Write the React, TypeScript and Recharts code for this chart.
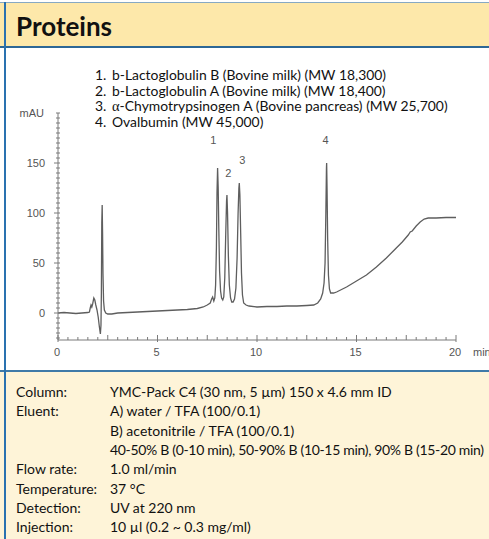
import React from 'react';
import { LineChart, Line, XAxis, YAxis, ReferenceDot } from 'recharts';

// retention time (min) and detector signal (mAU)
const traceTime = [
  0, 0.3, 0.6, 0.9, 1.2, 1.5, 1.58, 1.62, 1.66, 1.7, 1.74, 1.8, 1.85, 1.9, 1.96,
  2.02, 2.08, 2.13, 2.16, 2.18, 2.2, 2.22, 2.24, 2.26, 2.29, 2.33, 2.4, 2.5, 2.7,
  3, 3.5, 4, 4.5, 5, 5.5, 6, 6.5, 7, 7.3, 7.5, 7.65, 7.72, 7.77, 7.83, 7.88,
  7.92, 7.96, 7.99, 8.02, 8.05, 8.08, 8.12, 8.17, 8.22, 8.28,
  8.33, 8.38, 8.43, 8.47, 8.49, 8.52, 8.56, 8.61, 8.67, 8.73, 8.8,
  8.87, 8.94, 9.0, 9.05, 9.09, 9.11, 9.14, 9.18, 9.22, 9.27, 9.33, 9.45, 9.6,
  10, 10.5, 11, 11.5, 12, 12.5, 12.85, 13.05, 13.2, 13.3, 13.37, 13.42, 13.46,
  13.49, 13.5, 13.52, 13.55, 13.59, 13.64, 13.7, 13.85,
  14, 14.5, 15, 15.5, 16, 16.5, 17, 17.3, 17.6, 17.7, 17.8, 18, 18.2, 18.4,
  18.6, 19, 19.5, 20,
];
const traceMau = [
  0, 0.5, 0, -0.5, 0, 0.5, 1, 5, 8, 6, 9, 15, 13, 8, 3,
  -4, -14, -21, -12, 20, 90, 108, 80, 40, 12, 3, 0, -1, -1,
  0, 0.5, 1, 1.5, 2, 2.5, 3, 3.5, 4.5, 6, 8, 10, 14, 16, 12, 15,
  28, 65, 120, 145, 125, 85, 42, 22, 15, 13,
  16, 35, 80, 112, 118, 100, 58, 28, 15, 11, 11,
  14, 25, 55, 100, 125, 130, 118, 80, 40, 18, 10, 8, 7,
  6, 6.5, 6.5, 7, 7, 7.5, 8, 10, 14, 20, 30, 50, 100,
  145, 150, 125, 75, 38, 24, 20, 20,
  21, 26, 32, 38, 46, 55, 65, 71, 78, 81, 82, 87, 91, 94,
  95, 95, 95.5, 95.5,
];

const xTicks = [
  0, 0.5, 1, 1.5, 2, 2.5, 3, 3.5, 4, 4.5, 5, 5.5, 6, 6.5, 7, 7.5, 8, 8.5, 9, 9.5,
  10, 10.5, 11, 11.5, 12, 12.5, 13, 13.5, 14, 14.5, 15, 15.5, 16, 16.5, 17, 17.5,
  18, 18.5, 19, 19.5, 20,
];
const xMajorTicks = [0, 5, 10, 15, 20];
const xMidTicks = [2.5, 7.5, 12.5, 17.5];

const yTicks = [
  -25, -20, -15, -10, -5, 0, 5, 10, 15, 20, 25, 30, 35, 40, 45, 50, 55, 60, 65, 70,
  75, 80, 85, 90, 95, 100, 105, 110, 115, 120, 125, 130, 135, 140, 145, 150, 155,
  160, 165, 170, 175, 180, 185, 190, 195, 200,
];
const yMajorTicks = [0, 50, 100, 150];

const peakNames = ['1', '2', '3', '4'];
const peakLabelTime = [7.81, 8.56, 9.26, 13.44];
const peakLabelMau = [173, 140, 153, 173];

const legendNumbers = ['1.', '2.', '3.', '4.'];
const legendNames = [
  'b-Lactoglobulin B (Bovine milk) (MW 18,300)',
  'b-Lactoglobulin A (Bovine milk) (MW 18,400)',
  '-Chymotrypsinogen A (Bovine pancreas) (MW 25,700)',
  'Ovalbumin (MW 45,000)',
];

const conditionLabels = ['Column:', 'Eluent:', '', '', 'Flow rate:', 'Temperature:', 'Detection:', 'Injection:'];
const conditionValues = [
  'YMC-Pack C4 (30 nm, 5 \u00b5m) 150 x 4.6 mm ID',
  'A) water / TFA (100/0.1)',
  'B) acetonitrile / TFA (100/0.1)',
  '40-50% B (0-10 min), 50-90% B (10-15 min), 90% B (15-20 min)',
  '1.0 ml/min',
  '37 \u00b0C',
  'UV at 220 nm',
  '10 \u00b5l (0.2 ~ 0.3 mg/ml)',
];

const chartData = traceTime.map((t, i) => ({ t, v: traceMau[i] }));

const AXIS = '#7a7a7a';
const TICK_TEXT = '#555';
const AXIS_FONT = '"Liberation Sans", Arial, sans-serif';
const BODY_FONT = 'Lato, "Noto Sans", sans-serif';

function XTick({ x, y, payload }: any) {
  const v = payload.value;
  const major = xMajorTicks.includes(v);
  const mid = xMidTicks.includes(v);
  return (
    <g>
      <line x1={x} x2={x} y1={y - (major || mid ? 5 : 3)} y2={y + (major ? 2 : 0)} stroke={AXIS} strokeWidth={1} />
      {major && (
        <text x={x - 1} y={y + 16} textAnchor="middle" fill={TICK_TEXT} fontSize={11} fontFamily={AXIS_FONT}>
          {v}
        </text>
      )}
    </g>
  );
}

function YTick({ x, y, payload }: any) {
  const v = payload.value;
  const major = yMajorTicks.includes(v);
  return (
    <g>
      <line x1={x - (major ? 4 : 2)} x2={x + 2} y1={y} y2={y} stroke={AXIS} strokeWidth={1} />
      {major && (
        <text x={x - 13} y={y + 4} textAnchor="end" fill={TICK_TEXT} fontSize={11} fontFamily={AXIS_FONT}>
          {v}
        </text>
      )}
      {v === 200 && (
        <text x={x - 14} y={y + 4} textAnchor="end" fill={TICK_TEXT} fontSize={11} fontFamily={AXIS_FONT}>
          mAU
        </text>
      )}
    </g>
  );
}

function PeakLabel(text: string) {
  return (props: any) => (
    <text x={props.cx} y={props.cy + 4} textAnchor="middle" fill={TICK_TEXT} fontSize={11} fontFamily={AXIS_FONT}>
      {text}
    </text>
  );
}

export default function App() {
  return (
    <div
      style={{
        position: 'absolute', left: 0, top: 0, width: 489, height: 539, overflow: 'hidden',
        background: '#fff', fontFamily: BODY_FONT, color: '#111',
      }}
    >
      {/* header band */}
      <div style={{ position: 'absolute', left: 0, top: 2, width: 489, height: 1, background: '#86a9c4' }} />
      <div style={{ position: 'absolute', left: 0, top: 3, width: 489, height: 43, background: '#fde8aa' }} />
      <div style={{ position: 'absolute', left: 0, top: 46, width: 489, height: 2, background: '#2d6796' }} />
      <div
        style={{
          position: 'absolute', left: 16, top: 9, fontSize: 26, fontWeight: 700, lineHeight: '34px',
        }}
      >
        Proteins
      </div>

      {/* conditions panel */}
      <div style={{ position: 'absolute', left: 0, top: 370, width: 489, height: 2, background: '#3f7aa8' }} />
      <div style={{ position: 'absolute', left: 0, top: 372, width: 489, height: 167, background: '#fef4d8' }} />
      <div style={{ position: 'absolute', left: 4, top: 2, width: 2, height: 537, background: '#2a72b0' }} />

      <div style={{ position: 'absolute', left: 0, top: 0 }}>
        <LineChart
          width={489}
          height={371}
          data={chartData}
          margin={{ top: 113, right: 33, bottom: 7, left: 8 }}
        >
          <XAxis
            dataKey="t"
            type="number"
            domain={[0, 20]}
            ticks={xTicks}
            interval={0}
            height={24}
            tickSize={0}
            tickMargin={0}
            tickLine={false}
            tick={<XTick />}
            axisLine={{ stroke: AXIS }}
            allowDataOverflow
            label={{ value: 'min', position: 'right', offset: 17, fill: TICK_TEXT, fontSize: 11, fontFamily: AXIS_FONT }}
          />
          <YAxis
            type="number"
            domain={[-27, 200]}
            ticks={yTicks}
            interval={0}
            width={50}
            tickSize={0}
            tickMargin={0}
            tickLine={false}
            tick={<YTick />}
            axisLine={{ stroke: AXIS }}
            allowDataOverflow
          />
          <Line
            type="linear"
            dataKey="v"
            stroke="#5e5e5e"
            strokeWidth={1.3}
            dot={false}
            isAnimationActive={false}
          />
          {peakNames.map((name, i) => (
            <ReferenceDot
              key={name}
              x={peakLabelTime[i]}
              y={peakLabelMau[i]}
              r={0}
              shape={PeakLabel(name)}
            />
          ))}
        </LineChart>
      </div>

      {/* peak list */}
      {legendNumbers.map((num, i) => (
        <div
          key={num}
          style={{
            position: 'absolute', left: 95, top: 67.2 + i * 15.6, fontSize: 13.9, lineHeight: '15.6px',
            whiteSpace: 'nowrap',
          }}
        >
          <span style={{ display: 'inline-block', width: 17 }}>{num}</span>
          {i === 2 && <span style={{ fontFamily: '"Liberation Serif", serif', fontSize: 14.5 }}>{'\u03b1'}</span>}
          {legendNames[i]}
        </div>
      ))}

      {/* run conditions */}
      {conditionValues.map((val, i) => (
        <div
          key={i}
          style={{
            position: 'absolute', left: 16, top: 382 + i * 19.3, fontSize: 14, lineHeight: '19.3px',
            whiteSpace: 'nowrap', display: 'flex',
          }}
        >
          <span style={{ width: 94, flex: 'none' }}>{conditionLabels[i]}</span>
          <span style={{ letterSpacing: i === 3 ? -0.32 : 0 }}>{val}</span>
        </div>
      ))}
    </div>
  );
}
